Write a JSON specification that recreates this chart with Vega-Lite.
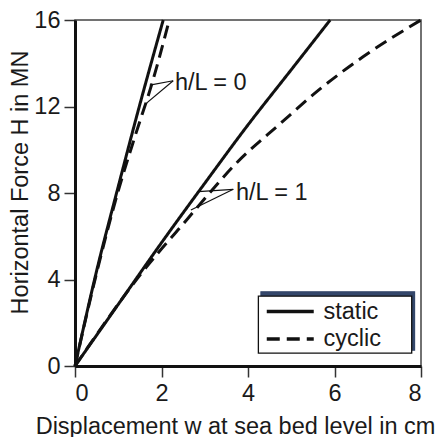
{
  "$schema": "https://vega.github.io/schema/vega-lite/v6.json",
  "width": 346,
  "height": 346,
  "autosize": "none",
  "padding": {"left": 75, "top": 20, "right": 26, "bottom": 71},
  "config": {
    "font": "Liberation Sans",
    "view": {"stroke": "#444", "strokeWidth": 1.5},
    "axis": {"grid": false, "labelFont": "Liberation Sans", "titleFont": "Liberation Sans", "labelFontSize": 23.5, "titleFontSize": 23.5, "titleFontWeight": "normal", "labelColor": "#1a1a1a", "titleColor": "#1a1a1a", "domainColor": "#111", "domainWidth": 3, "tickColor": "#333", "tickWidth": 1.5, "tickSize": 11, "labelPadding": 4}
  },
  "datasets": {
    "curves": [
      {"case": "h/L = 0", "type": "static", "x": 0, "H": 0},
      {"case": "h/L = 0", "type": "static", "x": 0.5, "H": 4.4},
      {"case": "h/L = 0", "type": "static", "x": 1.0, "H": 8.3},
      {"case": "h/L = 0", "type": "static", "x": 1.5, "H": 12.1},
      {"case": "h/L = 0", "type": "static", "x": 2.04, "H": 16},
      {"case": "h/L = 0", "type": "cyclic", "x": 0, "H": 0},
      {"case": "h/L = 0", "type": "cyclic", "x": 0.5, "H": 4.3},
      {"case": "h/L = 0", "type": "cyclic", "x": 1.0, "H": 8.1},
      {"case": "h/L = 0", "type": "cyclic", "x": 1.4, "H": 10.7},
      {"case": "h/L = 0", "type": "cyclic", "x": 1.77, "H": 13},
      {"case": "h/L = 0", "type": "cyclic", "x": 2.18, "H": 16},
      {"case": "h/L = 1", "type": "static", "x": 0, "H": 0},
      {"case": "h/L = 1", "type": "static", "x": 1.0, "H": 2.85},
      {"case": "h/L = 1", "type": "static", "x": 2.0, "H": 5.7},
      {"case": "h/L = 1", "type": "static", "x": 3.0, "H": 8.45},
      {"case": "h/L = 1", "type": "static", "x": 4.0, "H": 11.15},
      {"case": "h/L = 1", "type": "static", "x": 5.0, "H": 13.7},
      {"case": "h/L = 1", "type": "static", "x": 5.9, "H": 16},
      {"case": "h/L = 1", "type": "cyclic", "x": 0, "H": 0},
      {"case": "h/L = 1", "type": "cyclic", "x": 1.16, "H": 3.3},
      {"case": "h/L = 1", "type": "cyclic", "x": 1.54, "H": 4.3},
      {"case": "h/L = 1", "type": "cyclic", "x": 1.93, "H": 5.25},
      {"case": "h/L = 1", "type": "cyclic", "x": 2.43, "H": 6.4},
      {"case": "h/L = 1", "type": "cyclic", "x": 2.77, "H": 7.2},
      {"case": "h/L = 1", "type": "cyclic", "x": 3.74, "H": 9.4},
      {"case": "h/L = 1", "type": "cyclic", "x": 4.74, "H": 11.2},
      {"case": "h/L = 1", "type": "cyclic", "x": 5.66, "H": 12.8},
      {"case": "h/L = 1", "type": "cyclic", "x": 6.66, "H": 14.3},
      {"case": "h/L = 1", "type": "cyclic", "x": 8, "H": 16}
    ],
    "leaders": [
      {"x": 2.27, "y": 13.19, "x2": 1.73, "y2": 12.99},
      {"x": 2.27, "y": 13.19, "x2": 1.62, "y2": 12.1},
      {"x": 3.66, "y": 8.17, "x2": 2.85, "y2": 8.06},
      {"x": 3.66, "y": 8.17, "x2": 2.68, "y2": 7.21}
    ],
    "labels": [
      {"x": 2.31, "y": 13.1, "text": "h/L = 0"},
      {"x": 3.72, "y": 8.0, "text": "h/L = 1"}
    ],
    "boxes": [
      {"part": "shadow", "x": 4.30, "x2": 7.85, "y": 0.73, "y2": 3.43},
      {"part": "box", "x": 4.24, "x2": 7.785, "y": 0.60, "y2": 3.23}
    ]
  },
  "layer": [
    {
      "data": {"name": "boxes"},
      "mark": {"type": "rect"},
      "encoding": {
        "x": {"field": "x", "type": "quantitative", "scale": {"domain": [0, 8], "nice": false}},
        "x2": {"field": "x2"},
        "y": {"field": "y", "type": "quantitative", "scale": {"domain": [0, 16], "nice": false}},
        "y2": {"field": "y2"},
        "fill": {"field": "part", "type": "nominal", "scale": {"domain": ["shadow", "box"], "range": ["#34476b", "#ffffff"]}, "legend": null},
        "stroke": {"field": "part", "type": "nominal", "scale": {"domain": ["shadow", "box"], "range": ["#34476b", "#111111"]}, "legend": null},
        "strokeWidth": {"value": 1.3}
      }
    },
    {
      "data": {"name": "curves"},
      "mark": {"type": "line", "color": "#111", "strokeWidth": 3, "interpolate": "monotone"},
      "encoding": {
        "x": {"field": "x", "type": "quantitative", "scale": {"domain": [0, 8], "nice": false}, "axis": {"values": [0, 2, 4, 6, 8], "title": "Displacement w at sea bed level in cm", "titleX": 160, "titleY": 67, "titleBaseline": "alphabetic", "titleAlign": "center"}},
        "y": {"field": "H", "type": "quantitative", "scale": {"domain": [0, 16], "nice": false}, "axis": {"values": [0, 4, 8, 12, 16], "title": "Horizontal Force H in MN", "titleX": -48, "titleY": 162, "titleBaseline": "alphabetic", "titleAlign": "center", "titleAngle": -90}},
        "strokeDash": {"field": "type", "type": "nominal", "scale": {"domain": ["static", "cyclic"], "range": [[1, 0], [13, 7]]}, "legend": {"title": null, "orient": "none", "legendX": 201.75, "legendY": 278, "symbolType": "M-2,0H2", "symbolSize": 552, "symbolStrokeWidth": 3.5, "symbolStrokeColor": "#111", "labelFontSize": 23.5, "labelFont": "Liberation Sans", "labelColor": "#1a1a1a", "labelOffset": 19.75, "padding": 0, "rowPadding": 2.5}},
        "detail": {"field": "case"},
        "order": {"field": "x", "type": "quantitative"}
      }
    },
    {
      "data": {"name": "leaders"},
      "mark": {"type": "rule", "color": "#111", "strokeWidth": 1.2},
      "encoding": {
        "x": {"field": "x", "type": "quantitative"},
        "y": {"field": "y", "type": "quantitative"},
        "x2": {"field": "x2"},
        "y2": {"field": "y2"}
      }
    },
    {
      "data": {"name": "labels"},
      "mark": {"type": "text", "align": "left", "baseline": "middle", "fontSize": 23.5, "font": "Liberation Sans", "color": "#1a1a1a"},
      "encoding": {
        "x": {"field": "x", "type": "quantitative"},
        "y": {"field": "y", "type": "quantitative"},
        "text": {"field": "text"}
      }
    }
  ]
}
